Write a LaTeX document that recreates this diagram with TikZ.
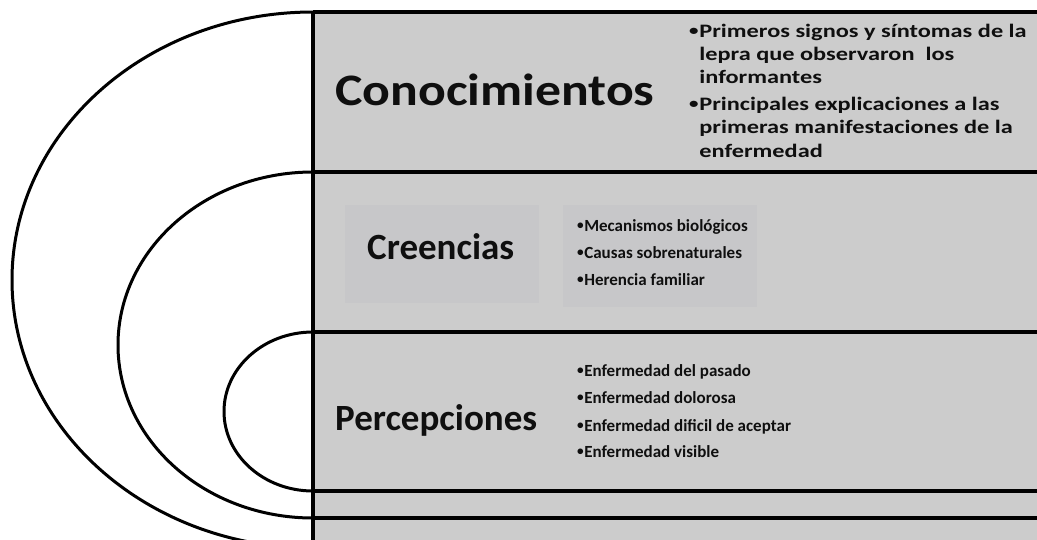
\documentclass[tikz,border=0pt]{standalone}
\usepackage{graphicx}
\usepackage{fontspec}
\setmainfont{Carlito}
\definecolor{bggray}{RGB}{204,204,204}
\definecolor{faintgray}{RGB}{199,199,201}
\definecolor{ink}{RGB}{15,15,15}
\tikzset{
  frame/.style={line width=3.6pt, draw=black},
  ring/.style={line width=3pt, draw=black},
  title/.style={anchor=base west, inner sep=0pt, text=ink, font=\bfseries},
  bul/.style={anchor=base west, inner sep=0pt, text=ink, font=\fontsize{17}{20}\selectfont\bfseries},
  cbul/.style={anchor=base west, inner sep=0pt, text=ink, font=\fontsize{19}{23}\selectfont\bfseries},
}
\newcommand{\wide}[2]{\scalebox{#1}[1]{#2}}
\newcommand{\dotb}{\raisebox{0.09em}{\scalebox{0.78}{•}}\kern0.03em}
\begin{document}
\begin{tikzpicture}[x=1pt,y=-1pt]
\useasboundingbox (0,0) rectangle (1037,539);
\clip (0,0) rectangle (1037,539);
% background panel
\fill[bggray] (313,12) rectangle (1037,545);
\fill[faintgray] (345,205) rectangle (539,303);
\fill[faintgray] (563,205) rectangle (757,307);
% frame lines
\coordinate (vt) at (313,12);
\coordinate (vb) at (313,545);
\coordinate (r1) at (1040,12);
\coordinate (a2) at (313,172);
\coordinate (r2) at (1040,172);
\coordinate (a3) at (313,332);
\coordinate (r3) at (1040,332);
\coordinate (a4) at (313,491);
\coordinate (r4) at (1040,491);
\coordinate (a5) at (313,518);
\coordinate (r5) at (1040,518);
\draw[frame] (vt) -- (r1);
\draw[frame] (a2) -- (r2);
\draw[frame] (a3) -- (r3);
\draw[frame] (a4) -- (r4);
\draw[frame] (a5) -- (r5);
\draw[frame] (vt) -- (vb);
% nested half ellipses
\draw[ring] (vt) arc[start angle=90, end angle=270, x radius=301pt, y radius=268pt];
\draw[ring] (a2) arc[start angle=90, end angle=270, x radius=195pt, y radius=173pt];
\draw[ring] (a3) arc[start angle=90, end angle=270, x radius=89pt, y radius=79.5pt];
% titles
\node[title, font=\fontsize{45}{50}\selectfont\bfseries] (tcon) at (335,105) {\wide{1.15}{Conocimientos}};
\node[title, font=\fontsize{37}{42}\selectfont\bfseries] (tcre) at (367,259) {Creencias};
\node[title, font=\fontsize{37}{42}\selectfont\bfseries] (tper) at (335,430) {Percepciones};
% Conocimientos bullets
\node[cbul] (c1) at (689,37) {\wide{1.28}{\dotb Primeros signos y síntomas de la}};
\node[cbul] (c2) at (689,60) {\wide{1.28}{\phantom{\dotb}lepra que observaron\ \ los}};
\node[cbul] (c3) at (689,83) {\wide{1.28}{\phantom{\dotb}informantes}};
\node[cbul] (c4) at (689,110) {\wide{1.28}{\dotb Principales explicaciones a las}};
\node[cbul] (c5) at (689,133) {\wide{1.28}{\phantom{\dotb}primeras manifestaciones de la}};
\node[cbul] (c6) at (689,157) {\wide{1.28}{\phantom{\dotb}enfermedad}};
% Creencias bullets
\node[bul] (b1) at (577,231) {\dotb Mecanismos biológicos};
\node[bul] (b2) at (577,258) {\dotb Causas sobrenaturales};
\node[bul] (b3) at (577,285) {\dotb Herencia familiar};
% Percepciones bullets
\node[bul] (p1) at (577,376) {\dotb Enfermedad del pasado};
\node[bul] (p2) at (577,403) {\dotb Enfermedad dolorosa};
\node[bul] (p3) at (577,431) {\dotb Enfermedad dificil de aceptar};
\node[bul] (p4) at (577,457) {\dotb Enfermedad visible};
\end{tikzpicture}
\end{document}
